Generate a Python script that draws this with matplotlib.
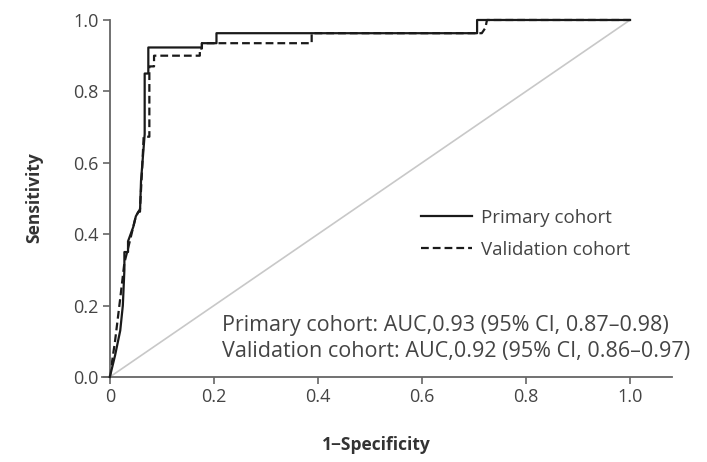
import matplotlib
matplotlib.use("Agg")
import matplotlib.pyplot as plt

plt.rcParams["font.family"] = ["Open Sans", "DejaVu Sans"]

# ROC curve points
primary_fpr = [0, 0.010, 0.020, 0.025, 0.028, 0.028, 0.035, 0.035, 0.045, 0.050,
               0.055, 0.058, 0.060, 0.067, 0.067, 0.074, 0.074, 0.177, 0.177,
               0.205, 0.205, 0.706, 0.706, 1.0]
primary_tpr = [0, 0.06, 0.13, 0.20, 0.30, 0.35, 0.35, 0.38, 0.42, 0.45,
               0.463, 0.463, 0.55, 0.68, 0.85, 0.85, 0.923, 0.923, 0.935,
               0.935, 0.963, 0.963, 1.0, 1.0]

validation_fpr = [0, 0.005, 0.010, 0.015, 0.020, 0.028, 0.035, 0.045, 0.050,
                  0.058, 0.062, 0.065, 0.076, 0.076, 0.085, 0.085, 0.173, 0.173,
                  0.177, 0.177, 0.388, 0.388, 0.715, 0.722, 0.725, 1.0]
validation_tpr = [0, 0.05, 0.10, 0.16, 0.22, 0.32, 0.36, 0.42, 0.45,
                  0.47, 0.58, 0.673, 0.673, 0.87, 0.87, 0.90, 0.90, 0.92,
                  0.92, 0.935, 0.935, 0.963, 0.963, 0.978, 1.0, 1.0]

series_labels = ["Primary cohort", "Validation cohort"]
auc_lines = [
    "Primary cohort: AUC,0.93 (95% CI, 0.87\u20130.98)",
    "Validation cohort: AUC,0.92 (95% CI, 0.86\u20130.97)",
]
ticks = [0, 0.2, 0.4, 0.6, 0.8, 1.0]
xtick_labels = ["0", "0.2", "0.4", "0.6", "0.8", "1.0"]
ytick_labels = ["0.0", "0.2", "0.4", "0.6", "0.8", "1.0"]

fig = plt.figure(figsize=(7.07, 4.62), dpi=100)
ax = fig.add_axes([0.1443, 0.184, 0.8057, 0.7766])

ax.plot([0, 1], [0, 1], color="#c8c8c8", lw=1.2, zorder=1)
ax.plot(primary_fpr, primary_tpr, color="#1a1a1a", lw=1.6,
        label=series_labels[0], clip_on=False, zorder=3)
ax.plot(validation_fpr, validation_tpr, color="#1a1a1a", lw=1.6,
        linestyle=(0, (3.5, 1.8)), label=series_labels[1], clip_on=False, zorder=2)

ax.set_xlim(-0.015, 1.08)
ax.set_ylim(0, 1.005)

for side in ("top", "right"):
    ax.spines[side].set_visible(False)
ax.spines["left"].set_position(("data", 0))
ax.spines["left"].set_bounds(0, 1)
for side in ("left", "bottom"):
    ax.spines[side].set_color("#666666")
    ax.spines[side].set_linewidth(1.3)

ax.set_xticks(ticks)
ax.set_xticklabels(xtick_labels)
ax.set_yticks(ticks)
ax.set_yticklabels(ytick_labels)
ax.tick_params(direction="out", length=5, width=1.2, color="#666666",
               labelsize=13, labelcolor="#444444", pad=3)

ax.set_xlabel("1\u2212Specificity", fontsize=12.5, fontweight="bold",
              color="#333333")
ax.xaxis.set_label_coords(0.481, -0.165)
ax.set_ylabel("Sensitivity", fontsize=12.5, fontweight="bold", color="#333333")
ax.yaxis.set_label_coords(-0.103, 0.5)

ax.legend(loc="upper left", bbox_to_anchor=(404 / 707, 1 - 192 / 462),
          bbox_transform=fig.transFigure, frameon=False, fontsize=13.5,
          handlelength=2.7, handletextpad=0.5, labelspacing=0.75,
          labelcolor="#444444")

for i, line in enumerate(auc_lines):
    fig.text(222 / 707, 1 - (325 + 27 * i) / 462, line, fontsize=15.5,
             color="#444444", ha="left", va="center")

fig.savefig("out.png", dpi=100)
